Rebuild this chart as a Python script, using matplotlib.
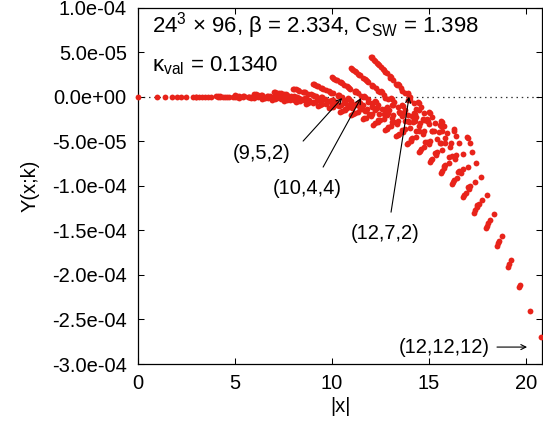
import numpy as np
import matplotlib
matplotlib.use("Agg")
import matplotlib.pyplot as plt
from matplotlib.ticker import FuncFormatter, MultipleLocator

# |x| and Y(x;k) (in units of 1e-5), grouped by largest lattice component n
x_n0 = [0.00]
y_n0 = [0.00]
x_n1 = [1.00, 1.41, 1.73]
y_n1 = [0.00, 0.00, 0.00]
x_n2 = [2.00, 2.24, 2.45, 2.83, 3.00, 3.46]
y_n2 = [0.00, 0.00, 0.00, 0.00, -0.01, -0.02]
x_n3 = [3.00, 3.16, 3.32, 3.61, 3.74, 4.12, 4.24, 4.36, 4.69, 5.20]
y_n3 = [0.02, 0.01, 0.01, 0.00, -0.01, -0.03, -0.02, -0.03, -0.06, -0.11]
x_n4 = [4.00, 4.12, 4.24, 4.47, 4.58, 4.90, 5.00, 5.10, 5.39, 5.83, 5.66, 5.74, 6.00, 6.40, 6.93]
y_n4 = [0.06, 0.05, 0.03, 0.02, 0.00, -0.03, -0.02, -0.04, -0.08, -0.15, -0.06, -0.08, -0.14, -0.23, -0.33]
x_n5 = [5.00, 5.10, 5.20, 5.39, 5.48, 5.74, 5.83, 5.92, 6.16, 6.56, 6.40, 6.48, 6.71, 7.07, 7.55,
        7.07, 7.14, 7.35, 7.68, 8.12, 8.66]
y_n5 = [0.14, 0.12, 0.10, 0.07, 0.06, 0.00, 0.01, -0.02, -0.08, -0.17, -0.07, -0.10, -0.17, -0.29, -0.44,
        -0.14, -0.17, -0.26, -0.41, -0.60, -0.81]
x_n6 = [6.00, 6.08, 6.16, 6.32, 6.40, 6.63, 6.71, 6.78, 7.00, 7.35, 7.21, 7.28, 7.48, 7.81, 8.25,
        7.81, 7.87, 8.06, 8.37, 8.77, 9.27, 8.49, 8.54, 8.72, 9.00, 9.38, 9.85, 10.39]
y_n6 = [0.28, 0.26, 0.23, 0.19, 0.17, 0.09, 0.09, 0.06, -0.03, -0.16, -0.04, -0.07, -0.17, -0.33, -0.52,
        -0.17, -0.21, -0.32, -0.51, -0.75, -1.03, -0.28, -0.33, -0.47, -0.69, -0.98, -1.32, -1.69]
x_n7 = [7.00, 7.07, 7.14, 7.28, 7.35, 7.55, 7.62, 7.68, 7.87, 8.19, 8.06, 8.12, 8.31, 8.60, 9.00,
        8.60, 8.66, 8.83, 9.11, 9.49, 9.95, 9.22, 9.27, 9.43, 9.70, 10.05, 10.49, 11.00,
        9.90, 9.95, 10.10, 10.34, 10.68, 11.09, 11.58, 12.12]
y_n7 = [0.52, 0.49, 0.46, 0.40, 0.36, 0.26, 0.25, 0.21, 0.10, -0.07, 0.07, 0.02, -0.10, -0.30, -0.56,
        -0.14, -0.19, -0.33, -0.56, -0.86, -1.21, -0.35, -0.40, -0.56, -0.83, -1.18, -1.60, -2.06,
        -0.52, -0.59, -0.77, -1.08, -1.49, -1.98, -2.54, -3.13]
x_n8 = [8.00, 8.06, 8.12, 8.25, 8.31, 8.49, 8.54, 8.60, 8.77, 9.06, 8.94, 9.00, 9.17, 9.43, 9.80,
        9.43, 9.49, 9.64, 9.90, 10.25, 10.68, 10.00, 10.05, 10.20, 10.44, 10.77, 11.18, 11.66,
        10.63, 10.68, 10.82, 11.05, 11.36, 11.75, 12.21, 12.73,
        11.31, 11.36, 11.49, 11.70, 12.00, 12.37, 12.81, 13.30, 13.86]
y_n8 = [0.89, 0.85, 0.81, 0.73, 0.68, 0.55, 0.53, 0.48, 0.35, 0.12, 0.28, 0.23, 0.07, -0.17, -0.50,
        -0.02, -0.07, -0.25, -0.52, -0.89, -1.33, -0.33, -0.40, -0.59, -0.90, -1.32, -1.82, -2.39,
        -0.63, -0.71, -0.92, -1.28, -1.75, -2.34, -3.00, -3.72,
        -0.89, -0.97, -1.22, -1.62, -2.17, -2.84, -3.61, -4.45, -5.34]
x_n9 = [9.00, 9.06, 9.11, 9.22, 9.27, 9.43, 9.49, 9.54, 9.70, 9.95,
        9.85, 9.90, 10.05, 10.30, 10.63, 10.30, 10.34, 10.49, 10.72, 11.05, 11.45,
        10.82, 10.86, 11.00, 11.22, 11.53, 11.92, 12.37,
        11.40, 11.45, 11.58, 11.79, 12.08, 12.45, 12.88, 13.38,
        12.04, 12.08, 12.21, 12.41, 12.69, 13.04, 13.45, 13.93, 14.46,
        12.73, 12.77, 12.88, 13.08, 13.34, 13.67, 14.07, 14.53, 15.03, 15.59]
y_n9 = [1.43, 1.37, 1.32, 1.22, 1.16, 1.00, 0.97, 0.91, 0.74, 0.46,
        0.64, 0.57, 0.39, 0.08, -0.32, 0.24, 0.17, -0.03, -0.36, -0.81, -1.35,
        -0.19, -0.27, -0.50, -0.86, -1.36, -1.96, -2.66,
        -0.64, -0.72, -0.98, -1.38, -1.94, -2.62, -3.41, -4.27,
        -1.06, -1.16, -1.44, -1.90, -2.52, -3.29, -4.18, -5.17, -6.22,
        -1.43, -1.53, -1.84, -2.36, -3.06, -3.93, -4.94, -6.08, -7.29, -8.55]
x_n10 = [10.00, 10.05, 10.10, 10.20, 10.25, 10.39, 10.44, 10.49, 10.63, 10.86,
         10.77, 10.82, 10.95, 11.18, 11.49, 11.18, 11.22, 11.36, 11.58, 11.87, 12.25,
         11.66, 11.70, 11.83, 12.04, 12.33, 12.69, 13.11,
         12.21, 12.25, 12.37, 12.57, 12.85, 13.19, 13.60, 14.07,
         12.81, 12.85, 12.96, 13.15, 13.42, 13.75, 14.14, 14.59, 15.10,
         13.45, 13.49, 13.60, 13.78, 14.04, 14.35, 14.73, 15.17, 15.65, 16.19,
         14.14, 14.18, 14.28, 14.46, 14.70, 15.00, 15.36, 15.78, 16.25, 16.76, 17.32]
y_n10 = [2.17, 2.11, 2.04, 1.91, 1.85, 1.65, 1.60, 1.53, 1.32, 0.98,
         1.18, 1.11, 0.89, 0.52, 0.03, 0.68, 0.60, 0.36, -0.04, -0.57, -1.22,
         0.11, 0.02, -0.24, -0.67, -1.25, -1.97, -2.80,
         -0.50, -0.60, -0.88, -1.36, -2.00, -2.79, -3.71, -4.73,
         -1.11, -1.22, -1.53, -2.05, -2.76, -3.64, -4.67, -5.82, -7.06,
         -1.68, -1.80, -2.15, -2.72, -3.51, -4.49, -5.65, -6.94, -8.34, -9.81,
         -2.17, -2.30, -2.69, -3.33, -4.20, -5.29, -6.58, -8.04, -9.62, -11.30, -13.03]
x_n11 = [11.00, 11.05, 11.09, 11.18, 11.22, 11.36, 11.40, 11.45, 11.58, 11.79,
         11.70, 11.75, 11.87, 12.08, 12.37, 12.08, 12.12, 12.25, 12.45, 12.73, 13.08,
         12.53, 12.57, 12.69, 12.88, 13.15, 13.49, 13.89,
         13.04, 13.08, 13.19, 13.38, 13.64, 13.96, 14.35, 14.80,
         13.60, 13.64, 13.75, 13.93, 14.18, 14.49, 14.87, 15.30, 15.78,
         14.21, 14.25, 14.35, 14.53, 14.76, 15.07, 15.43, 15.84, 16.31, 16.82,
         14.87, 14.90, 15.00, 15.17, 15.39, 15.68, 16.03, 16.43, 16.88, 17.38, 17.92,
         15.56, 15.59, 15.68, 15.84, 16.06, 16.34, 16.67, 17.06, 17.49, 17.97, 18.49, 19.05]
y_n11 = [3.18, 3.10, 3.02, 2.87, 2.79, 2.55, 2.49, 2.40, 2.15, 1.74,
         1.97, 1.89, 1.62, 1.19, 0.60, 1.34, 1.25, 0.97, 0.51, -0.12, -0.90,
         0.62, 0.52, 0.22, -0.28, -0.96, -1.80, -2.78,
         -0.16, -0.27, -0.60, -1.14, -1.88, -2.80, -3.87, -5.07,
         -0.98, -1.10, -1.46, -2.04, -2.85, -3.85, -5.03, -6.36, -7.80,
         -1.78, -1.91, -2.30, -2.95, -3.83, -4.94, -6.24, -7.71, -9.32, -11.02,
         -2.53, -2.68, -3.10, -3.81, -4.78, -6.00, -7.43, -9.07, -10.86, -12.77, -14.76,
         -3.18, -3.34, -3.81, -4.58, -5.65, -6.99, -8.58, -10.39, -12.38, -14.53, -16.78, -19.08]
x_n12 = [12.00, 12.04, 12.08, 12.17, 12.21, 12.33, 12.37, 12.41, 12.53, 12.73,
         12.65, 12.69, 12.81, 13.00, 13.27, 13.00, 13.04, 13.15, 13.34, 13.60, 13.93,
         13.42, 13.45, 13.56, 13.75, 14.00, 14.32, 14.70,
         13.89, 13.93, 14.04, 14.21, 14.46, 14.76, 15.13, 15.56,
         14.42, 14.46, 14.56, 14.73, 14.97, 15.26, 15.62, 16.03, 16.49,
         15.00, 15.03, 15.13, 15.30, 15.52, 15.81, 16.16, 16.55, 17.00, 17.49,
         15.62, 15.65, 15.75, 15.91, 16.12, 16.40, 16.73, 17.12, 17.55, 18.03, 18.55,
         16.28, 16.31, 16.40, 16.55, 16.76, 17.03, 17.35, 17.72, 18.14, 18.60, 19.10, 19.65,
         16.97, 17.00, 17.09, 17.23, 17.44, 17.69, 18.00, 18.36, 18.76, 19.21, 19.70, 20.22, 20.78]
y_n12 = [4.50, 4.41, 4.32, 4.13, 4.04, 3.75, 3.68, 3.58, 3.28, 2.80,
         3.06, 2.95, 2.64, 2.14, 1.45, 2.29, 2.18, 1.86, 1.32, 0.59, -0.32,
         1.41, 1.29, 0.94, 0.37, -0.41, -1.39, -2.53,
         0.43, 0.30, -0.07, -0.69, -1.53, -2.58, -3.82, -5.21,
         -0.61, -0.75, -1.15, -1.81, -2.72, -3.86, -5.21, -6.73, -8.40,
         -1.67, -1.82, -2.25, -2.97, -3.96, -5.20, -6.67, -8.33, -10.17, -12.12,
         -2.71, -2.87, -3.34, -4.12, -5.20, -6.55, -8.15, -9.98, -11.99, -14.16, -16.43,
         -3.67, -3.84, -4.36, -5.21, -6.38, -7.85, -9.60, -11.61, -13.83, -16.23, -18.77, -21.38,
         -4.50, -4.69, -5.25, -6.18, -7.45, -9.06, -10.98, -13.18, -15.62, -18.28, -21.10, -24.03, -27.02]

labels = ["(9,5,2)", "(10,4,4)", "(12,7,2)", "(12,12,12)"]

plt.rcParams['font.family'] = ['Liberation Sans', 'DejaVu Sans']
plt.rcParams['mathtext.fontset'] = 'custom'
plt.rcParams['mathtext.rm'] = 'Liberation Sans'
plt.rcParams['mathtext.it'] = 'Liberation Sans:italic'
fs = 14.5

xs = np.concatenate([x_n0, x_n1, x_n2, x_n3, x_n4, x_n5, x_n6,
                     x_n7, x_n8, x_n9, x_n10, x_n11, x_n12])
ys = np.concatenate([y_n0, y_n1, y_n2, y_n3, y_n4, y_n5, y_n6,
                     y_n7, y_n8, y_n9, y_n10, y_n11, y_n12]) * 1e-5

fig = plt.figure(figsize=(5.43, 4.24), dpi=100)
ax = fig.add_axes([0.2541, 0.1415, 0.7441, 0.8406])

ax.axhline(0, color='#333333', lw=0.9, ls=(0, (1.2, 3)), zorder=1)
ax.plot(xs, ys, 'o', color='#e8231a', ms=4.2, mew=0, clip_on=False, zorder=3)

ax.set_xlim(0, 20.82)
ax.set_ylim(-3e-4, 1e-4)
ax.xaxis.set_major_locator(MultipleLocator(5))
ax.yaxis.set_major_locator(MultipleLocator(5e-5))
ax.yaxis.set_major_formatter(FuncFormatter(
    lambda v, p: '%.1e' % (0.0 if abs(v) < 1e-12 else v)))
ax.tick_params(direction='in', length=4.5, width=0.75, top=True, right=True,
               labelsize=fs)
ax.tick_params(axis='x', pad=7)
ax.tick_params(axis='y', pad=8)
for s in ax.spines.values():
    s.set_linewidth(0.9)

ax.set_xlabel("|x|", fontsize=fs, labelpad=3)
ax.set_ylabel("Y(x;k)", fontsize=fs, labelpad=9)

ax.text(0.7, 7.95e-5, r"24$^3$ × 96, β = 2.334, C$_{\mathrm{SW}}$ = 1.398",
        fontsize=16, va='center', ha='left')
ax.text(0.7, 3.45e-5, r"κ$_{\mathrm{val}}$ = 0.1340",
        fontsize=16, va='center', ha='left')

arrow = dict(arrowstyle='->', lw=0.8, color='black', shrinkA=0, shrinkB=0,
             mutation_scale=9)
ax.annotate("", xy=(10.52, -0.15e-5), xytext=(8.51, -4.98e-5), arrowprops=arrow)
ax.text(6.39, -6.33e-5, labels[0], ha='center', va='center', fontsize=fs)
ax.annotate("", xy=(11.49, -0.15e-5), xytext=(9.54, -7.9e-5), arrowprops=arrow)
ax.text(8.71, -10.26e-5, labels[1], ha='center', va='center', fontsize=fs)
ax.annotate("", xy=(13.97, 0.0), xytext=(13.04, -12.96e-5), arrowprops=arrow)
ax.text(12.73, -15.3e-5, labels[2], ha='center', va='center', fontsize=fs)
ax.annotate("", xy=(20.05, -28.1e-5), xytext=(18.5, -28.1e-5), arrowprops=arrow)
ax.text(18.14, -28.1e-5, labels[3], ha='right', va='center', fontsize=fs)

fig.savefig("out.png", dpi=100)
